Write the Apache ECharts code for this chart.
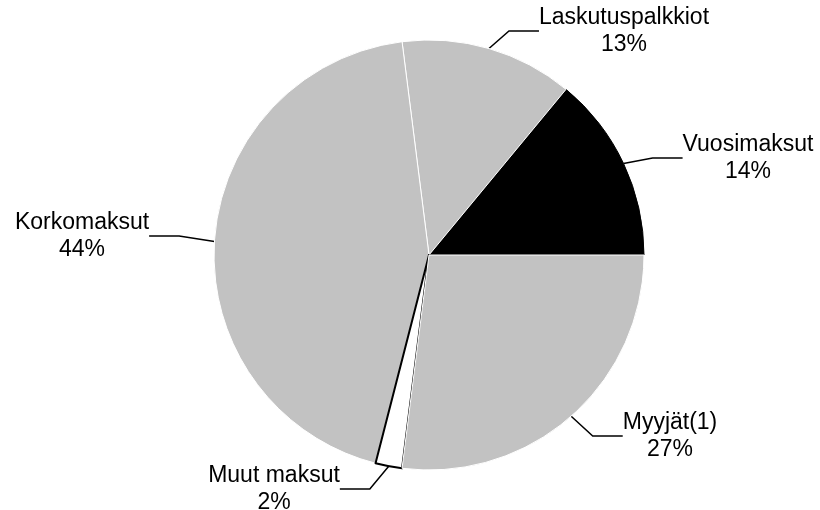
<!DOCTYPE html>
<html>
<head>
<meta charset="utf-8">
<script src="https://cdn.jsdelivr.net/npm/echarts@6/dist/echarts.min.js"></script>
<style>
  html, body { margin: 0; padding: 0; background: #fff; }
  #chart { width: 820px; height: 510px; }
</style>
</head>
<body>
<div id="chart"></div>
<script>
// slices, counter-clockwise from 3 o'clock
const names = ['Vuosimaksut', 'Laskutuspalkkiot', 'Korkomaksut', 'Muut maksut', 'Myyjät(1)']
const shares = [14, 13, 44, 2, 27]

// fills per slice and where each label block sits (centre x, centre y)
const fills = ['#000000', '#c2c2c2', '#c2c2c2', '#ffffff', '#c2c2c2']
const borders = ['#000000', '#ffffff', '#ffffff', '#000000', '#ffffff']
const labelPos = [[748, 158], [624, 31], [82, 236], [274, 489], [670, 436]]

const chart = echarts.init(document.getElementById('chart'))

chart.setOption({
  animation: false,
  series: [{
    type: 'pie',
    center: [429, 255],
    radius: 215,
    startAngle: 0,
    clockwise: false,
    data: names.map((n, i) => ({
      name: n,
      value: shares[i],
      itemStyle: { color: fills[i], borderColor: borders[i], borderWidth: i === 3 ? 2 : 1 },
    })),
    label: {
      show: true,
      formatter: '{b}\n{c}%',
      fontFamily: 'Liberation Sans, Arial, sans-serif',
      fontSize: 23,
      lineHeight: 27,
      color: '#000',
      align: 'center',
    },
    labelLine: {
      show: true,
      length: 12,
      length2: 30,
      lineStyle: { color: '#000', width: 1.5 },
    },
    labelLayout: (params) => ({
      x: labelPos[params.dataIndex][0],
      y: labelPos[params.dataIndex][1],
      align: 'center',
      verticalAlign: 'middle',
    }),
  }],
})
</script>
</body>
</html>
